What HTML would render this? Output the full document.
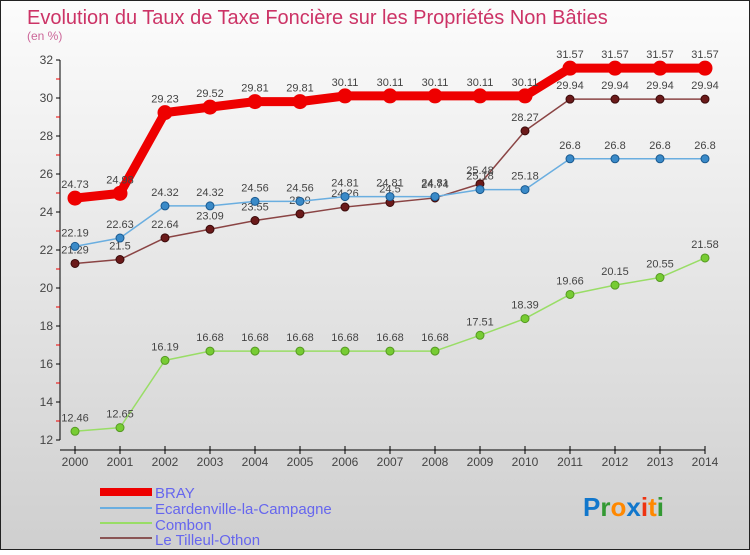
<!DOCTYPE html>
<html><head><meta charset="utf-8"><style>
body{margin:0;width:750px;height:550px;overflow:hidden;font-family:"Liberation Sans",sans-serif}
svg text{font-family:"Liberation Sans",sans-serif}
</style></head><body>
<svg id="c" width="750" height="550">
<defs><linearGradient id="bg" x1="0" y1="0" x2="0" y2="1"><stop offset="0" stop-color="#fcfcfc"/><stop offset="1" stop-color="#cfcfcf"/></linearGradient></defs>
<rect x="0.5" y="0.5" width="749" height="549" fill="url(#bg)" stroke="#222"/>
<text x="27" y="24" font-size="20" fill="#cc3366">Evolution du Taux de Taxe Foncière sur les Propriétés Non Bâties</text>
<text x="27" y="40" font-size="12" fill="#cc6699">(en %)</text>
<g id="axes"></g><g id="series"></g>
<g>
<line x1="100" y1="492" x2="152" y2="492" stroke="#ee0000" stroke-width="8"/>
<text x="155" y="498" font-size="15" fill="#6666ee">BRAY</text>
<line x1="100" y1="508" x2="152" y2="508" stroke="#6aaee0" stroke-width="2"/>
<text x="155" y="514" font-size="15" fill="#6666ee">Ecardenville-la-Campagne</text>
<line x1="100" y1="523" x2="152" y2="523" stroke="#99dd66" stroke-width="2"/>
<text x="155" y="530" font-size="15" fill="#6666ee">Combon</text>
<line x1="100" y1="538" x2="152" y2="538" stroke="#8a5555" stroke-width="2"/>
<text x="155" y="545" font-size="15" fill="#6666ee">Le Tilleul-Othon</text>
</g>
<g font-size="26" font-weight="bold">
<text x="583" y="516"><tspan fill="#1177cc">P</tspan><tspan fill="#339933">r</tspan><tspan fill="#ff8800">o</tspan><tspan fill="#1177cc">x</tspan><tspan fill="#ee3311">i</tspan><tspan fill="#ff8800">t</tspan><tspan fill="#339933">i</tspan></text>
</g>
</svg>
<script>
const years=[2000,2001,2002,2003,2004,2005,2006,2007,2008,2009,2010,2011,2012,2013,2014];
const yTicks=[12,14,16,18,20,22,24,26,28,30,32];
const bray=[24.73,24.98,29.23,29.52,29.81,29.81,30.11,30.11,30.11,30.11,30.11,31.57,31.57,31.57,31.57];
const ecard=[22.19,22.63,24.32,24.32,24.56,24.56,24.81,24.81,24.81,25.18,25.18,26.8,26.8,26.8,26.8];
const combon=[12.46,12.65,16.19,16.68,16.68,16.68,16.68,16.68,16.68,17.51,18.39,19.66,20.15,20.55,21.58];
const tilleul=[21.29,21.5,22.64,23.09,23.55,23.9,24.26,24.5,24.74,25.48,28.27,29.94,29.94,29.94,29.94];
const NS="http://www.w3.org/2000/svg";
const X=i=>75+i*45, Y=v=>440-(v-12)*19;
function mk(t,a,p){const e=document.createElementNS(NS,t);for(const k in a)e.setAttribute(k,a[k]);p.appendChild(e);return e;}
const ax=document.getElementById('axes'), sr=document.getElementById('series');
const ya=mk('line',{x1:60,y1:60,x2:60,y2:440,stroke:'#000'},ax);


yTicks.forEach(v=>{
 mk('line',{x1:56,y1:Y(v),x2:60,y2:Y(v),stroke:'#000'},ax);
 if(v<32)mk('line',{x1:56,y1:Y(v+1),x2:60,y2:Y(v+1),stroke:'#e00'},ax);
 const t=mk('text',{x:53,y:Y(v)+4,'text-anchor':'end','font-size':12,fill:'#444'},ax);t.textContent=v;
 
 
});
const xa=mk('line',{x1:60,y1:450,x2:X(14),y2:450,stroke:'#000'},ax);


years.forEach((y,i)=>{
 mk('line',{x1:X(i),y1:446,x2:X(i),y2:454,stroke:'#000'},ax);
 const t=mk('text',{x:X(i),y:466,'text-anchor':'middle','font-size':12,fill:'#444'},ax);t.textContent=y;
 
 
});
function draw(d,name,lc,pc,sc,lw,r){
 const g=mk('g',{},sr);
 
 
 const pl=mk('polyline',{points:d.map((v,i)=>X(i)+','+Y(v)).join(' '),fill:'none',stroke:lc,'stroke-width':lw,'stroke-linejoin':'round'},g);
 
 
 d.forEach((v,i)=>{
  const c=mk('circle',{cx:X(i),cy:Y(v),r:r,fill:pc,stroke:sc,'stroke-width':1},g);
  
  
  const t=mk('text',{x:X(i),y:Y(v)-10,'text-anchor':'middle','font-size':11,fill:'#444'},g);t.textContent=v;
  
  
 });
}
draw(combon,'combon','#99dd66','#77cc33','#559922',1.5,4);
draw(tilleul,'tilleul-othon','#8a4444','#6b1a1a','#3a0a0a',1.5,4);
draw(ecard,'ecardenville','#6aaee0','#3a8ac8','#1a5a90',1.5,4);
draw(bray,'bray','#ee0000','#ee0000','#ee0000',9,7);
</script>
</body></html>
